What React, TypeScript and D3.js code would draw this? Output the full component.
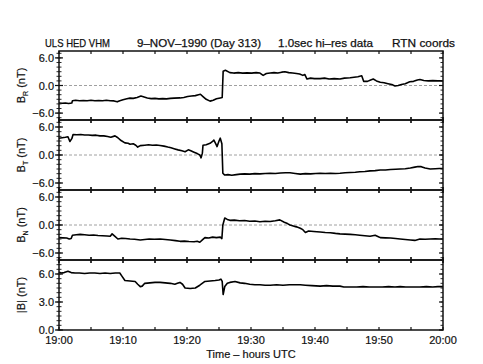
import React from 'react';
import * as d3 from 'd3';

const titleParts = ['ULS HED VHM', '9\u2013NOV\u20131990 (Day 313)', '1.0sec hi\u2013res data', 'RTN coords'];
const titleX = [45, 137, 278, 392];
const titleW = [65, 124, 95, 63];

const xTickMinutes = [0, 5, 10, 15, 20, 25, 30, 35, 40, 45, 50, 55, 60];
const xLabelMinutes = [0, 10, 20, 30, 40, 50, 60];
const xTickLabels = ['19:00', '19:10', '19:20', '19:30', '19:40', '19:50', '20:00'];
const xTitle = 'Time \u2013 hours UTC';

const panelNames = ['R', 'T', 'N', '|B|'];
const bDomains: [number, number][] = [[-7.5, 7.5], [-7.5, 7.5], [-7.5, 7.5], [0, 7.5]];
const majorTicks = [[-6, 0, 6], [-6, 0, 6], [-6, 0, 6], [0, 3, 6]];
const majorLabels = [['\u22126.0', '0.0', '6.0'], ['\u22126.0', '0.0', '6.0'], ['\u22126.0', '0.0', '6.0'], ['0.0', '3.0', '6.0']];
const minorSteps = [1, 1, 1, 0.5];

const brData: [number, number][] = [[0,-3.8],[0.5,-3.85],[1,-3.8],[1.5,-3.9],[2,-3.8],[2.1,-3.3],[2.6,-3.2],[3.2,-3.3],[3.8,-3.25],[4.4,-3.3],[5,-3.2],[5.6,-3.3],[6.2,-3.25],[6.8,-3.3],[7.4,-3.2],[8,-3.3],[8.6,-3.35],[9.1,-3.55],[9.5,-3.3],[10,-3.1],[10.6,-2.9],[11.1,-2.75],[11.6,-2.8],[12.2,-2.6],[12.8,-2.3],[13.3,-2.5],[13.8,-2.7],[14.4,-2.85],[15,-2.8],[15.6,-2.9],[16.2,-2.85],[16.8,-2.9],[17.4,-2.8],[18,-2.75],[18.9,-2.7],[19.5,-2.6],[20.1,-2.4],[20.7,-2.3],[21.3,-2.2],[21.8,-2.0],[22.1,-1.9],[22.5,-2.4],[23,-3.0],[23.6,-3.4],[24.1,-3.2],[24.6,-2.9],[25.2,-2.7],[25.5,-2.6],[25.65,3.1],[26,3.3],[26.7,2.8],[27.3,2.7],[28,2.8],[28.7,2.7],[29.4,2.75],[30.1,2.7],[30.8,2.8],[31.4,2.7],[31.9,2.2],[32.4,2.6],[33,2.7],[33.6,2.8],[34.2,2.7],[34.8,2.9],[35.3,3.0],[35.9,2.8],[36.5,2.7],[37.1,2.6],[37.6,2.5],[38.1,2.2],[38.4,2.4],[38.75,1.4],[39.3,1.6],[39.9,1.5],[40.8,1.5],[41.5,1.6],[42.2,1.4],[43,1.5],[43.9,1.4],[44.6,1.6],[45.5,1.7],[46.1,1.8],[46.7,1.9],[47.3,2.1],[47.6,0.9],[48.2,0.9],[48.7,1.2],[49.1,1.4],[49.6,1.0],[50.2,0.7],[50.8,0.6],[51.4,0.4],[52,0.2],[52.5,-0.1],[53,0.0],[53.5,0.2],[54.1,0.4],[54.8,0.8],[55.4,0.9],[56,1.2],[56.4,1.3],[57,1.1],[57.7,1.0],[58.4,1.05],[59.2,1.0],[60,1.0]];

const btData: [number, number][] = [[0,3.6],[0.5,3.7],[1,3.8],[1.4,3.9],[1.7,2.9],[2.0,3.5],[2.2,4.4],[2.8,4.35],[3.4,4.4],[4,4.3],[4.6,4.3],[5.2,4.2],[5.8,4.25],[6.4,4.1],[7,4.1],[7.6,3.95],[8.1,3.8],[8.75,4.1],[9.2,3.7],[9.7,3.1],[10.3,2.6],[10.8,2.5],[11.1,2.3],[11.6,2.4],[12,2.1],[12.3,1.7],[12.7,2.0],[13.4,2.1],[14,2.2],[14.6,2.1],[15.2,2.15],[15.8,2.05],[16.4,1.9],[17,1.7],[17.5,1.55],[18.1,1.3],[18.6,1.1],[19.2,0.9],[19.7,0.7],[20.2,1.1],[20.6,0.9],[21.1,0.6],[21.6,0.3],[22,0.0],[22.2,-0.6],[22.4,0.4],[22.5,2.1],[23,2.2],[23.6,2.5],[24,2.9],[24.2,3.2],[24.5,2.4],[24.7,1.8],[25,3.0],[25.2,3.6],[25.45,2.4],[25.6,-3.9],[25.9,-4.3],[26.4,-4.2],[27,-4.35],[27.7,-4.2],[28.3,-4.1],[29,-4.05],[29.8,-4.1],[30.6,-4.0],[31.4,-4.05],[32.2,-3.95],[33,-3.9],[33.8,-3.95],[34.6,-3.85],[35.4,-3.8],[36.1,-3.8],[36.9,-3.95],[37.7,-4.1],[38.5,-4.0],[39.3,-4.05],[40.1,-3.95],[40.8,-3.9],[41.6,-3.95],[42.4,-3.9],[43.2,-3.95],[43.9,-3.9],[44.7,-3.8],[45.5,-3.75],[46.3,-3.7],[47,-3.6],[47.8,-3.55],[48.6,-3.4],[49.4,-3.35],[50.2,-3.2],[51,-3.2],[51.8,-3.1],[52.6,-3.05],[53.3,-3.0],[54.1,-2.95],[54.9,-2.8],[55.6,-2.6],[56.1,-2.45],[56.6,-2.5],[57.2,-2.8],[58,-3.0],[58.8,-2.95],[59.4,-2.9],[60,-2.9]];

const bnData: [number, number][] = [[0,-2.7],[0.6,-2.75],[1.2,-2.8],[1.6,-3.0],[1.9,-2.9],[2.1,-2.2],[2.7,-2.1],[3.3,-2.0],[4,-2.1],[4.7,-2.2],[5.4,-2.15],[6.1,-2.25],[6.8,-2.3],[7.5,-2.35],[8,-2.4],[8.3,-1.9],[8.7,-2.4],[9.2,-3.0],[9.8,-2.85],[10.4,-2.9],[11.1,-3.0],[11.8,-3.05],[12.7,-3.2],[13.4,-3.1],[14.1,-3.0],[14.9,-3.05],[15.8,-3.0],[16.6,-3.1],[17.4,-3.2],[18.2,-3.35],[18.9,-3.5],[19.6,-3.45],[20.3,-3.55],[21.1,-3.6],[21.6,-3.5],[22,-3.7],[22.4,-3.2],[22.8,-2.7],[23.4,-2.8],[24,-2.6],[24.6,-2.7],[25.2,-2.6],[25.45,-2.9],[25.6,0.0],[25.9,1.5],[26.3,1.2],[26.7,1.0],[27.4,1.05],[28.2,0.9],[29,0.95],[29.8,0.8],[30.6,0.85],[31.4,0.7],[32.2,0.8],[33,0.75],[33.8,0.9],[34.5,1.1],[35.2,0.6],[35.7,0.3],[36.1,0.0],[36.6,-0.2],[37.1,-0.4],[37.7,-0.7],[38.1,-1.0],[38.5,-1.6],[39,-1.3],[39.8,-1.4],[40.8,-1.5],[41.6,-1.6],[42.4,-1.65],[43.2,-1.8],[43.9,-1.9],[44.7,-1.95],[45.5,-2.0],[46.3,-2.1],[47,-2.2],[47.8,-2.3],[48.6,-2.4],[49.4,-2.2],[49.9,-2.5],[50.2,-2.7],[51,-2.75],[51.8,-2.8],[52.6,-2.9],[53.3,-3.0],[54.1,-3.1],[54.9,-3.2],[55.6,-3.3],[56.4,-3.0],[57.2,-3.05],[58,-3.0],[58.8,-2.95],[59.4,-3.0],[60,-3.0]];

const bmData: [number, number][] = [[0,6.2],[0.4,6.1],[0.8,6.15],[1.4,6.3],[1.9,6.15],[2.5,6.1],[3.2,6.1],[4,6.05],[4.8,6.1],[5.6,6.1],[6.4,6.05],[7.2,6.1],[8,6.05],[8.8,6.1],[9.5,6.1],[9.8,5.8],[10.3,5.3],[11.1,5.25],[11.9,5.2],[12.3,4.9],[12.7,4.65],[13,4.7],[13.4,5.0],[14.2,5.05],[15,5.1],[15.8,5.1],[16.6,5.05],[17.4,5.0],[18.1,4.9],[18.5,5.0],[18.9,5.1],[19.3,4.9],[19.7,4.5],[20.5,4.45],[21.3,4.5],[22,4.8],[22.8,5.2],[23.6,5.25],[24.4,5.3],[25,5.35],[25.3,5.45],[25.5,5.2],[25.65,3.8],[25.9,4.65],[26.3,5.0],[26.7,5.1],[27.5,5.2],[28.3,5.05],[29,5.0],[29.8,4.9],[30.6,4.85],[31.4,4.85],[32.2,4.8],[33,4.8],[34,4.85],[35,4.8],[36,4.85],[37,4.85],[37.7,4.85],[38.5,4.8],[39.5,4.75],[40.8,4.7],[41.8,4.75],[42.8,4.7],[43.9,4.7],[44.5,4.6],[45.5,4.6],[46.5,4.6],[47.5,4.65],[48.5,4.6],[49.5,4.6],[50.5,4.6],[51.5,4.65],[52.5,4.6],[53.3,4.65],[54.2,4.6],[55.2,4.6],[56.4,4.6],[57.4,4.65],[58.4,4.6],[59.2,4.65],[60,4.65]];

const seriesList = [brData, btData, bnData, bmData];

const W = 483, H = 364;
const left = 59, right = 443;
const panelTops = [51, 120, 190, 260];
const panelBottoms = [120, 190, 260, 330];
const FONT = '"Liberation Sans", Arial, sans-serif';
const INK = '#111';

export default function App() {
  const x = d3.scaleLinear().domain([0, 60]).range([left, right]);
  return (
    <svg width={W} height={H} style={{ position: 'absolute', left: 0, top: 0, background: '#fff' }} fontFamily={FONT} fontSize={11} fill={INK}>
      <rect x={0} y={0} width={W} height={H} fill="#fff" />
      {titleParts.map((t, i) => (
        <text key={i} x={titleX[i]} y={47} textLength={titleW[i]} lengthAdjust="spacingAndGlyphs" stroke={INK} strokeWidth={0.25}>{t}</text>
      ))}
      {seriesList.map((data, p) => {
        const y = d3.scaleLinear().domain(bDomains[p]).range([panelBottoms[p], panelTops[p]]);
        const line = d3.line<[number, number]>().x(d => x(d[0])).y(d => y(d[1]));
        const [d0, d1] = bDomains[p];
        const minor = d3.range(Math.ceil(d0 / minorSteps[p]) * minorSteps[p], d1 + 1e-9, minorSteps[p]);
        const cy = (panelTops[p] + panelBottoms[p]) / 2;
        const name = panelNames[p];
        return (
          <g key={p}>
            {p < 3 && (
              <line x1={left} x2={right} y1={y(0)} y2={y(0)} stroke="#888" strokeWidth={0.8} strokeDasharray="3,2" />
            )}
            <path d={line(data) || ''} fill="none" stroke="#000" strokeWidth={1.6} strokeLinejoin="round" />
            <rect x={left} y={panelTops[p]} width={right - left} height={panelBottoms[p] - panelTops[p]} fill="none" stroke={INK} strokeWidth={1.5} />
            {minor.map((v, i) => (
              <g key={i}>
                <line x1={left - 2.5} x2={left + 2.5} y1={y(v)} y2={y(v)} stroke={INK} strokeWidth={0.9} />
                <line x1={right - 2.5} x2={right} y1={y(v)} y2={y(v)} stroke={INK} strokeWidth={0.9} />
              </g>
            ))}
            {majorTicks[p].map((v, i) => (
              <g key={i}>
                <line x1={left - 4} x2={left + 4} y1={y(v)} y2={y(v)} stroke={INK} strokeWidth={1.2} />
                <line x1={right - 4} x2={right} y1={y(v)} y2={y(v)} stroke={INK} strokeWidth={1.2} />
                <text x={54} y={y(v) + 4} textAnchor="end" stroke={INK} strokeWidth={0.2}>{majorLabels[p][i]}</text>
              </g>
            ))}
            {xTickMinutes.map((m, i) => (
              <g key={'x' + i}>
                <line x1={x(m)} x2={x(m)} y1={panelTops[p] - (p === 0 ? 0 : 3)} y2={panelTops[p] + 3} stroke={INK} strokeWidth={1.2} />
                <line x1={x(m)} x2={x(m)} y1={panelBottoms[p] - 3} y2={panelBottoms[p] + (p === 3 ? 0 : 3)} stroke={INK} strokeWidth={1.2} />
              </g>
            ))}
            <text transform={`translate(25,${cy}) rotate(-90)`} textAnchor="middle" stroke={INK} strokeWidth={0.2}>
              {name === '|B|' ? (
                <tspan>|B| (nT)</tspan>
              ) : (
                <>
                  <tspan>B</tspan>
                  <tspan fontSize={7} dy={3}>{name}</tspan>
                  <tspan dy={-3}> (nT)</tspan>
                </>
              )}
            </text>
          </g>
        );
      })}
      {xLabelMinutes.map((m, i) => (
        <text key={i} x={x(m)} y={344} textAnchor="middle" stroke={INK} strokeWidth={0.2}>{xTickLabels[i]}</text>
      ))}
      <text x={251} y={358} textAnchor="middle" stroke={INK} strokeWidth={0.2}>{xTitle}</text>
    </svg>
  );
}
